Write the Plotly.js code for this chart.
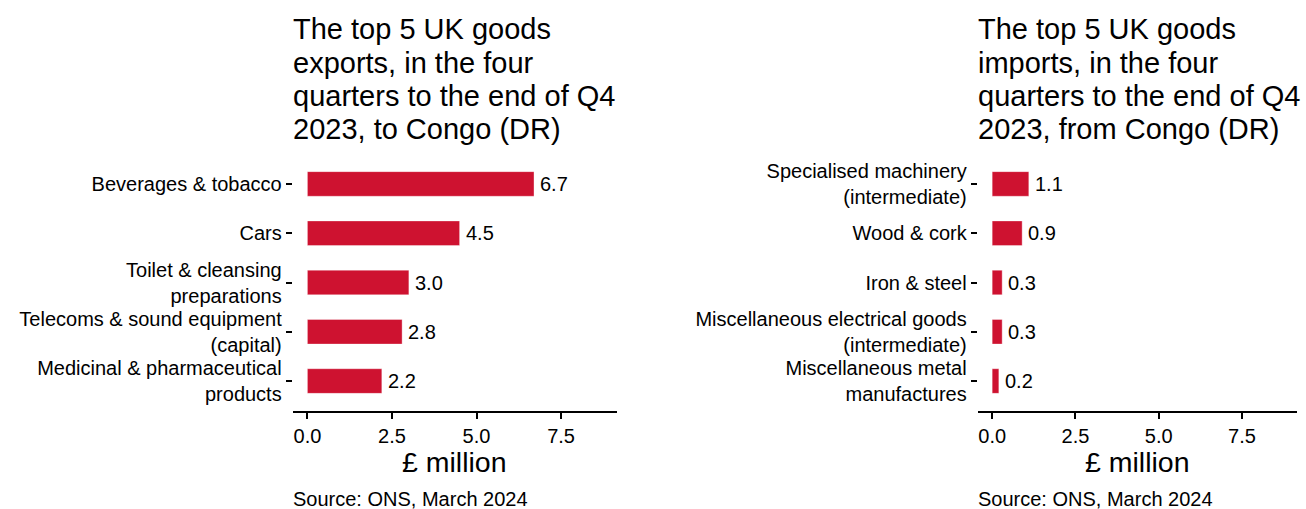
<!DOCTYPE html>
<html>
<head>
<meta charset="utf-8">
<script src="https://cdn.plot.ly/plotly-3.0.1.min.js"></script>
<style>html,body{margin:0;padding:0;background:#fff;}#chart{width:1306px;height:509px;}</style>
</head>
<body>
<div id="chart"></div>
<script>
const exportCategories = ["Beverages & tobacco", "Cars", "Toilet & cleansing<br>preparations", "Telecoms & sound equipment<br>(capital)", "Medicinal & pharmaceutical<br>products"];
const exportValues = [6.7, 4.5, 3.0, 2.8, 2.2];
const importCategories = ["Specialised machinery<br>(intermediate)", "Wood & cork", "Iron & steel", "Miscellaneous electrical goods<br>(intermediate)", "Miscellaneous metal<br>manufactures"];
const importValues = [1.1, 0.9, 0.3, 0.3, 0.2];
const xTickVals = [0, 2.5, 5, 7.5];
const xTickText = ["0.0", "2.5", "5.0", "7.5"];
const exportTitleLines = ["The top 5 UK goods", "exports, in the four", "quarters to the end of Q4", "2023, to Congo (DR)"];
const importTitleLines = ["The top 5 UK goods", "imports, in the four", "quarters to the end of Q4", "2023, from Congo (DR)"];
const axisTitle = "£ million";
const sourceText = "Source: ONS, March 2024";

const FONT = "Liberation Sans, Arial, sans-serif";
const RED = "#CE1230";
const H = 509;
const py = p => 1 - p / H;

function barTrace(cats, vals, xa, ya) {
  return {
    type: "bar", orientation: "h", x: vals, y: cats, xaxis: xa, yaxis: ya,
    width: 0.5,
    marker: {color: RED, line: {color: "rgba(255,255,255,0.6)", width: 0.6}},
    cliponaxis: false, hoverinfo: "skip"
  };
}

const xCommon = {
  range: [-0.435, 9.145], tickvals: xTickVals, ticktext: xTickText,
  showline: true, linewidth: 2, linecolor: "#000",
  ticks: "outside", ticklen: 6, tickwidth: 2, tickcolor: "#000",
  showgrid: false, zeroline: false, fixedrange: true,
  tickfont: {family: FONT, size: 20, color: "#000"}
};
const yCommon = {
  type: "category", range: [4.6, -0.6],
  showline: false, showgrid: false, zeroline: false,
  ticks: "outside", ticklen: 6, tickwidth: 2, tickcolor: "#000",
  tickfont: {family: FONT, size: 20, color: "#000"}, fixedrange: true
};

const d1 = [292.7 / 1306, 616.7 / 1306];
const d2 = [977.7 / 1306, 1296.7 / 1306];
const yd = [py(410.6), py(154.4)];

const annotations = [];
const titleCenters = [29.4, 62.8, 96.1, 129.4];
[[exportTitleLines, d1], [importTitleLines, d2]].forEach(([lines, dom]) => {
  lines.forEach((t, i) => annotations.push({
    text: t, xref: "paper", yref: "paper", x: dom[0], y: py(titleCenters[i]),
    xanchor: "left", yanchor: "middle", xshift: -2, showarrow: false,
    font: {family: FONT, size: 29, color: "#000"}
  }));
  annotations.push({
    text: axisTitle, xref: "paper", yref: "paper", x: (dom[0] + dom[1]) / 2, y: py(461.8),
    xanchor: "center", yanchor: "middle", showarrow: false,
    font: {family: FONT, size: 28.5, color: "#000"}
  });
  annotations.push({
    text: sourceText, xref: "paper", yref: "paper", x: dom[0], y: 0,
    xanchor: "left", yanchor: "bottom", xshift: -2, yshift: -2.5, showarrow: false,
    font: {family: FONT, size: 20, color: "#000"}
  });
});
[[exportCategories, exportValues, "x", "y"], [importCategories, importValues, "x2", "y2"]].forEach(([cats, vals, xa, ya]) => {
  vals.forEach((v, i) => annotations.push({
    text: v.toFixed(1), xref: xa, yref: ya, x: v, y: cats[i],
    xanchor: "left", yanchor: "middle", xshift: 4, showarrow: false,
    font: {family: FONT, size: 20, color: "#000"}
  }));
});

const layout = {
  width: 1306, height: 509,
  margin: {l: 0, r: 0, t: 0, b: 0},
  paper_bgcolor: "#fff", plot_bgcolor: "#fff",
  showlegend: false,
  font: {family: FONT, color: "#000"},
  xaxis: Object.assign({}, xCommon, {domain: d1, anchor: "y"}),
  yaxis: Object.assign({}, yCommon, {domain: yd, anchor: "x", categoryarray: exportCategories}),
  xaxis2: Object.assign({}, xCommon, {domain: d2, anchor: "y2"}),
  yaxis2: Object.assign({}, yCommon, {domain: yd, anchor: "x2", categoryarray: importCategories}),
  annotations: annotations
};

Plotly.newPlot("chart", [
  barTrace(exportCategories, exportValues, "x", "y"),
  barTrace(importCategories, importValues, "x2", "y2")
], layout, {displayModeBar: false, staticPlot: true});
</script>
</body>
</html>
